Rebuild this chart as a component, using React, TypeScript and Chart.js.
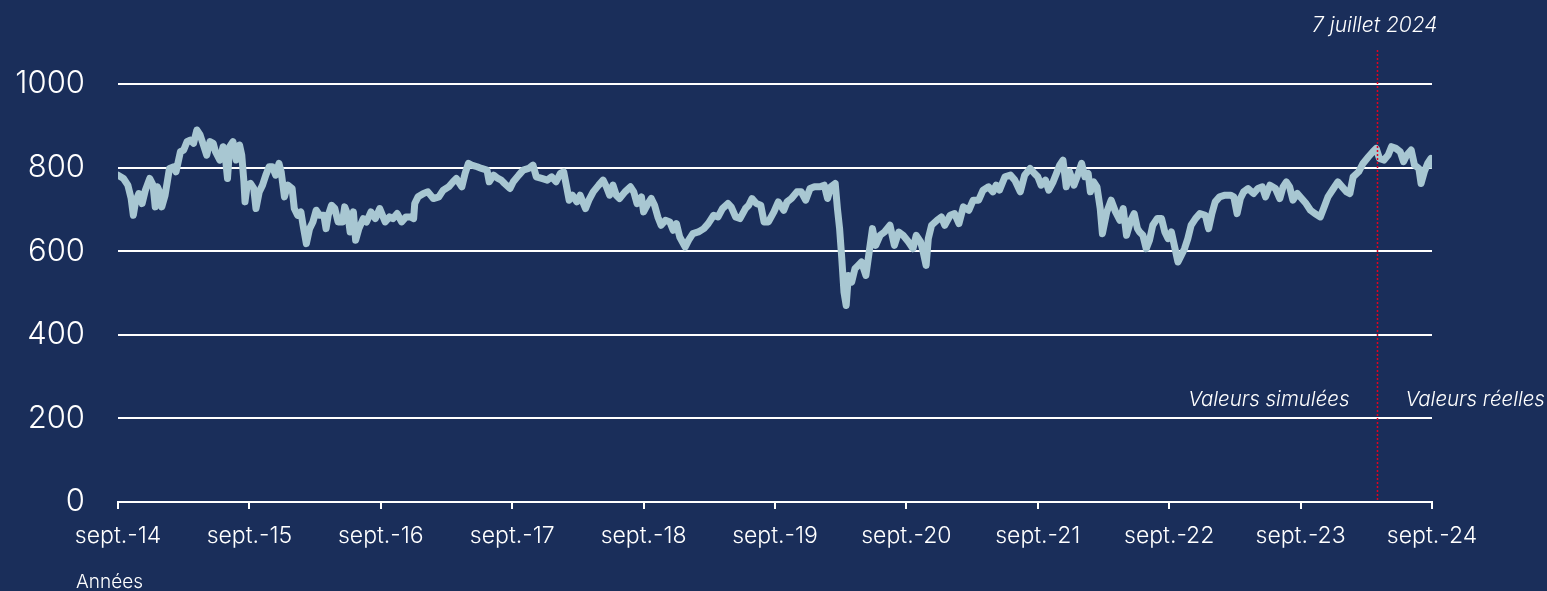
import React, { useEffect, useRef } from "react";
import { Chart, registerables } from "chart.js";

Chart.register(...registerables);

// Months elapsed since sept. 2014
const months: number[] = [
  0.0, 0.5, 0.9, 1.2, 1.4, 1.6, 1.9, 2.2, 2.5, 2.9, 3.2, 3.4, 3.6, 3.8, 4.0, 4.3, 4.5, 4.7, 5.1, 5.3,
  5.7, 6.0, 6.3, 6.6, 6.9, 7.2, 7.5, 7.8, 8.1, 8.4, 8.7, 8.9, 9.3, 9.6, 9.8, 10.0, 10.2, 10.5, 10.8, 11.1,
  11.3, 11.5, 11.6, 11.8, 12.1, 12.4, 12.6, 12.9, 13.2, 13.5, 13.8, 14.1, 14.4, 14.7, 14.9, 15.2, 15.5, 15.9, 16.1, 16.4,
  16.7, 16.9, 17.2, 17.5, 17.8, 18.1, 18.4, 18.8, 19.0, 19.2, 19.5, 19.8, 20.1, 20.5, 20.7, 21.0, 21.2, 21.5, 21.7, 22.0,
  22.4, 22.7, 23.1, 23.5, 23.9, 24.4, 24.8, 25.1, 25.5, 25.9, 26.3, 26.7, 27.0, 27.1, 27.4, 27.9, 28.3, 28.8, 29.3, 29.7,
  30.2, 30.6, 30.9, 31.4, 31.7, 32.0, 32.3, 32.8, 33.2, 33.7, 33.9, 34.3, 34.7, 35.0, 35.3, 35.8, 36.1, 36.6, 37.0, 37.5,
  37.9, 38.2, 38.7, 39.2, 39.6, 40.0, 40.4, 40.7, 41.0, 41.2, 41.5, 41.9, 42.2, 42.7, 43.0, 43.4, 43.9, 44.3, 44.6, 44.9,
  45.2, 45.5, 45.8, 46.3, 46.8, 47.1, 47.4, 47.8, 48.0, 48.4, 48.7, 49.0, 49.3, 49.6, 50.0, 50.4, 50.7, 51.0, 51.3, 51.8,
  52.1, 52.5, 53.0, 53.5, 53.9, 54.4, 54.8, 55.2, 55.7, 56.0, 56.4, 56.8, 57.3, 57.6, 57.9, 58.3, 58.7, 59.0, 59.4, 59.9,
  60.3, 60.8, 61.1, 61.5, 62.0, 62.4, 62.8, 63.2, 63.6, 64.1, 64.5, 64.8, 65.1, 65.5, 65.7, 65.9, 66.1, 66.3, 66.5, 66.7,
  67.0, 67.3, 67.6, 67.9, 68.3, 68.6, 68.9, 69.2, 69.6, 70.0, 70.5, 70.9, 71.3, 71.7, 72.2, 72.6, 72.9, 73.3, 73.5, 73.8,
  74.0, 74.3, 74.8, 75.2, 75.5, 76.0, 76.4, 76.8, 77.2, 77.7, 78.1, 78.6, 79.0, 79.5, 79.9, 80.2, 80.5, 81.0, 81.5, 81.9,
  82.4, 82.8, 83.3, 83.7, 84.0, 84.3, 84.7, 85.0, 85.4, 85.7, 86.0, 86.3, 86.6, 86.9, 87.3, 87.7, 88.0, 88.3, 88.6, 88.8,
  89.1, 89.4, 89.7, 89.9, 90.3, 90.7, 91.1, 91.5, 91.8, 92.1, 92.5, 92.8, 93.1, 93.3, 93.6, 93.9, 94.2, 94.5, 94.9, 95.3,
  95.6, 95.9, 96.2, 96.5, 96.8, 97.1, 97.4, 97.7, 98.0, 98.4, 98.8, 99.3, 99.6, 99.9, 100.2, 100.6, 101.1, 101.6, 101.9, 102.2,
  102.5, 102.8, 103.2, 103.7, 104.1, 104.5, 104.8, 105.2, 105.7, 106.1, 106.4, 106.7, 107.0, 107.3, 107.7, 108.1, 108.5, 108.9, 109.3, 109.8,
  110.1, 110.5, 111.0, 111.4, 111.8, 112.2, 112.5, 112.8, 113.3, 113.7, 114.2, 114.6, 114.9, 115.2, 115.6, 116.0, 116.3, 116.7, 117.1, 117.4,
  117.7, 118.1, 118.4, 118.8, 119.0, 119.3, 119.6, 119.9, 120.0,
];

const values: number[] = [
  782, 774, 758, 726, 686, 718, 738, 714, 746, 774, 758, 706, 754, 742, 706, 734, 766, 798, 802, 790,
  838, 842, 862, 866, 858, 890, 878, 854, 830, 862, 858, 838, 818, 850, 826, 774, 850, 862, 818, 854,
  830, 766, 718, 758, 762, 750, 702, 742, 758, 782, 802, 802, 782, 810, 790, 730, 758, 750, 702, 686,
  694, 662, 618, 654, 670, 698, 686, 686, 654, 686, 710, 702, 670, 670, 706, 686, 646, 694, 626, 654,
  678, 670, 694, 678, 702, 670, 682, 678, 690, 670, 682, 682, 678, 714, 730, 738, 742, 726, 730, 746,
  754, 766, 774, 754, 786, 810, 806, 802, 798, 794, 766, 782, 774, 770, 762, 750, 766, 782, 794, 798,
  806, 778, 774, 770, 778, 766, 786, 790, 750, 722, 734, 718, 734, 702, 722, 742, 758, 770, 754, 734,
  758, 734, 726, 742, 754, 742, 714, 730, 694, 714, 726, 710, 682, 662, 674, 670, 650, 666, 634, 610,
  626, 642, 646, 654, 666, 686, 682, 702, 714, 706, 682, 678, 702, 710, 726, 714, 710, 670, 670, 694,
  718, 698, 718, 726, 742, 742, 722, 750, 754, 754, 758, 726, 754, 762, 702, 654, 582, 502, 470, 542,
  526, 558, 566, 574, 542, 598, 654, 614, 638, 646, 662, 614, 646, 638, 622, 606, 638, 622, 602, 566,
  630, 662, 674, 682, 662, 686, 690, 666, 706, 698, 722, 722, 746, 754, 742, 758, 746, 778, 782, 770,
  742, 782, 798, 786, 778, 758, 770, 746, 766, 786, 806, 818, 754, 790, 758, 786, 810, 778, 786, 742,
  766, 754, 702, 642, 694, 722, 694, 674, 702, 638, 674, 690, 654, 646, 638, 606, 626, 662, 678, 678,
  646, 630, 646, 610, 574, 590, 606, 630, 662, 678, 690, 686, 654, 690, 718, 730, 734, 734, 730, 690,
  726, 742, 750, 738, 750, 754, 730, 758, 750, 726, 754, 766, 754, 722, 738, 726, 714, 698, 690, 682,
  702, 730, 750, 766, 754, 742, 738, 778, 790, 810, 826, 838, 846, 822, 818, 830, 850, 846, 838, 814,
  830, 842, 806, 798, 762, 790, 810, 822, 806,
];

const xTickLabels: string[] = [
  "sept.-14", "sept.-15", "sept.-16", "sept.-17", "sept.-18", "sept.-19",
  "sept.-20", "sept.-21", "sept.-22", "sept.-23", "sept.-24",
];
const yTicks: number[] = [0, 200, 400, 600, 800, 1000];

const markerMonth = 115.0; // 7 juillet 2024
const markerLabel = "7 juillet 2024";
const leftNote = "Valeurs simulées";
const rightNote = "Valeurs réelles";
const xTitle = "Années";

const BG = "#1a2e5a";
const LINE = "#a8c7d2";
const FONT = "Inter, 'Open Sans', sans-serif";

export default function App() {
  const ref = useRef<HTMLCanvasElement | null>(null);

  useEffect(() => {
    document.body.style.margin = "0";
    document.body.style.background = BG;
    const canvas = ref.current!;
    const annot = {
      id: "annot",
      beforeDraw(chart: any) {
        const c = chart.ctx;
        c.save();
        c.fillStyle = BG;
        c.fillRect(0, 0, chart.width, chart.height);
        c.restore();
      },
      afterDatasetsDraw(chart: any) {
        const c = chart.ctx;
        const xs = chart.scales.x;
        const ys = chart.scales.y;
        const lx = Math.round(xs.getPixelForValue(markerMonth)) + 0.5;
        c.save();
        c.strokeStyle = "#e8001c";
        c.lineWidth = 1.5;
        c.setLineDash([2, 2]);
        c.beginPath();
        c.moveTo(lx, 50);
        c.lineTo(lx, ys.getPixelForValue(0));
        c.stroke();
        c.setLineDash([]);
        c.fillStyle = "#ffffff";
        c.font = `italic 300 21px ${FONT}`;
        c.textBaseline = "middle";
        c.textAlign = "right";
        c.fillText(markerLabel, lx + 60, 26);
        c.font = `italic 300 20.5px ${FONT}`;
        const ny = ys.getPixelForValue(245);
        c.fillText(leftNote, lx - 28, ny);
        c.textAlign = "left";
        c.fillText(rightNote, lx + 28, ny);
        c.font = `300 19px ${FONT}`;
        c.textAlign = "left";
        c.fillText(xTitle, 76, 582);
        c.restore();
      },
    };

    const chart = new Chart(canvas, {
      type: "line",
      data: {
        datasets: [
          {
            data: months.map((m, i) => ({ x: m, y: values[i] })),
            borderColor: LINE,
            borderWidth: 7,
            pointRadius: 0,
            tension: 0,
            borderJoinStyle: "round",
            borderCapStyle: "round",
            fill: false,
          },
        ],
      },
      options: {
        responsive: false,
        animation: false,
        events: [],
        layout: { padding: { top: 84, right: 115, left: 0, bottom: 0 } },
        plugins: { legend: { display: false }, tooltip: { enabled: false } },
        scales: {
          x: {
            type: "linear",
            min: 0,
            max: 120,
            afterBuildTicks(scale: any) {
              scale.ticks = xTickLabels.map((_, i) => ({ value: i * 12 }));
            },
            afterFit(scale: any) {
              scale.height = 89;
            },
            ticks: {
              color: "#ffffff",
              font: { family: FONT, size: 23, weight: "300" },
              padding: 13,
              maxRotation: 0,
              autoSkip: false,
              callback: (v: any) => xTickLabels[Math.round(Number(v) / 12)] ?? "",
            },
            grid: {
              drawOnChartArea: false,
              drawTicks: true,
              tickLength: 7,
              color: "#ffffff",
              lineWidth: 2,
            },
            border: { display: true, color: "#ffffff", width: 2 },
          },
          y: {
            min: 0,
            max: 1000,
            afterBuildTicks(scale: any) {
              scale.ticks = yTicks.map((v) => ({ value: v }));
            },
            afterFit(scale: any) {
              scale.width = 118;
            },
            ticks: {
              color: "#ffffff",
              font: { family: FONT, size: 31, weight: "300" },
              padding: 33,
              callback: (v: any) => String(v),
            },
            grid: { color: "#ffffff", lineWidth: 2, drawTicks: false },
            border: { display: false },
          },
        },
      },
      plugins: [annot],
    } as any);
    return () => chart.destroy();
  }, []);

  return (
    <div style={{ width: 1547, height: 591, background: BG }}>
      <canvas ref={ref} width={1547} height={591} style={{ display: "block" }} />
    </div>
  );
}
